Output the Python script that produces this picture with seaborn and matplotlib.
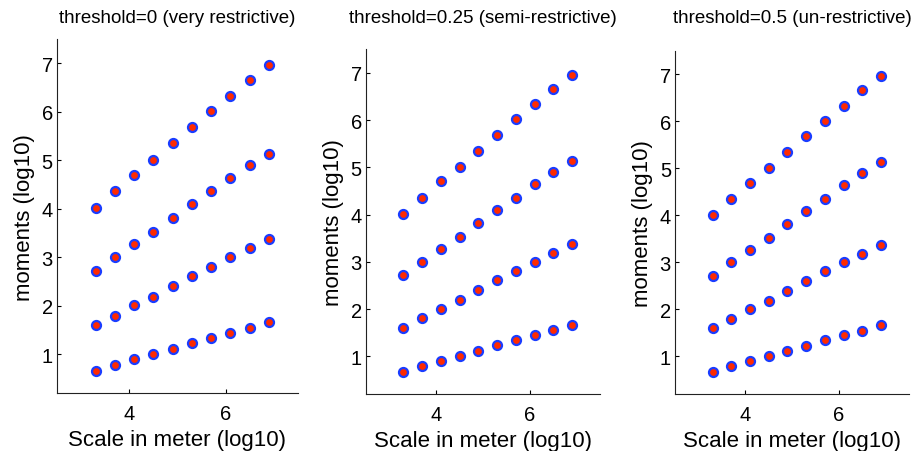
import matplotlib
matplotlib.use('Agg')
import matplotlib.pyplot as plt
import pandas as pd
import seaborn as sns

# Data (same four moment curves in every panel)
scale = [3.3, 3.7, 4.1, 4.5, 4.9, 5.3, 5.7, 6.1, 6.5, 6.9]
moment_q1 = [0.66, 0.79, 0.91, 1.00, 1.12, 1.23, 1.34, 1.45, 1.55, 1.66]
moment_q2 = [1.60, 1.80, 2.01, 2.19, 2.40, 2.61, 2.81, 3.00, 3.19, 3.38]
moment_q3 = [2.72, 3.00, 3.27, 3.53, 3.81, 4.10, 4.36, 4.64, 4.90, 5.14]
moment_q4 = [4.02, 4.36, 4.70, 5.01, 5.35, 5.69, 6.02, 6.33, 6.66, 6.96]
titles = ['threshold=0 (very restrictive)',
          'threshold=0.25 (semi-restrictive)',
          'threshold=0.5 (un-restrictive)']

sns.set_style('white')
plt.rcParams['font.family'] = ['Liberation Sans', 'DejaVu Sans']
plt.rcParams['text.color'] = 'black'
plt.rcParams['axes.labelcolor'] = 'black'
plt.rcParams['xtick.color'] = 'black'
plt.rcParams['ytick.color'] = 'black'

# Build a long table: one row per point, per panel
rows = []
for title in titles:
  for name, vals in zip(['q1', 'q2', 'q3', 'q4'], [moment_q1, moment_q2, moment_q3, moment_q4]):
    for s, m in zip(scale, vals):
      rows.append({'panel': title, 'series': name, 'scale': s, 'moment': m})
df = pd.DataFrame(rows)

fig, axes = plt.subplots(1, 3, figsize=(9.16, 4.52), dpi=100)
positions = [
  [0.0622, 0.128, 0.263, 0.783],
  [0.3996, 0.126, 0.2555, 0.763],
  [0.737, 0.126, 0.2555, 0.759],
]
title_pads = [12.2, 19.4, 20.9]

for ax, title, pos, tpad in zip(axes, titles, positions, title_pads):
  ax.set_position(pos)
  sns.scatterplot(df[df['panel'] == title], x='scale', y='moment',
                  color='#ff2a00', edgecolor='#1a3cff', linewidth=1.6,
                  s=42, legend=False, ax=ax)
  ax.set_xlim(2.5, 7.5)
  ax.set_ylim(0.2, 7.5)
  ax.set_xticks([4, 6])
  ax.set_yticks([1, 2, 3, 4, 5, 6, 7])
  ax.set_xlabel('Scale in meter (log10)', fontsize=16, labelpad=4)
  ax.set_ylabel('moments (log10)', fontsize=16, labelpad=5)
  ax.set_title(title, fontsize=13.5, pad=tpad)
  ax.tick_params(direction='in', length=3, width=0.8, labelsize=14.5,
                 left=True, bottom=True)
  ax.tick_params(axis='x', pad=8)
  ax.tick_params(axis='y', pad=3)
  sns.despine(ax=ax)
  for side in ['left', 'bottom']:
    ax.spines[side].set_color('#222222')
    ax.spines[side].set_linewidth(0.8)

fig.savefig('out.png', dpi=100)
